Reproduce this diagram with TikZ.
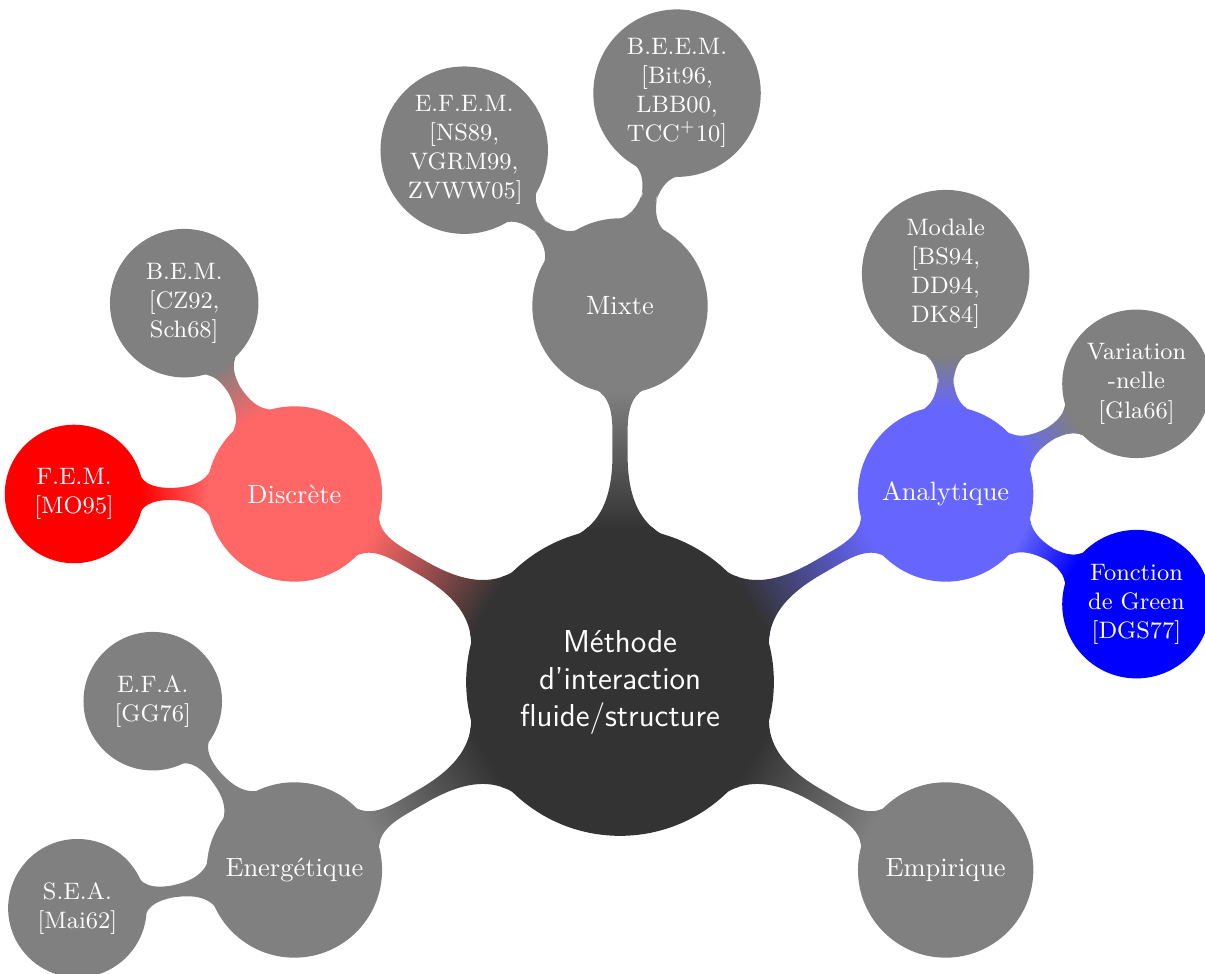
\documentclass[tikz,border=0pt]{standalone}
\usetikzlibrary{mindmap}
\begin{document}
\begin{tikzpicture}[mindmap, text=white, concept color=black!80,
  rootc/.style={minimum size=4.05cm, text width=3.5cm, font=\large\sffamily, align=center, inner sep=1pt},
  lvlone/.style={minimum size=2.29cm, text width=2cm, font=\normalsize, align=center, inner sep=1pt},
  lvltwo/.style={minimum size=1.8cm, text width=1.5cm, font=\small, align=center, inner sep=1pt},
  level 1/.append style={level distance=5cm},
  level 2/.append style={level distance=2.93cm}]
\useasboundingbox (-8.245,-3.883) rectangle (7.779,9.069);
\node[concept, rootc] (root) {Méthode\\d'interaction\\fluide/structure}
  child[grow=150, concept color=red!60] {node[concept, lvlone] (disc) {Discrète}
    child[grow=180, concept color=red] {node[concept, lvltwo] (fem) {F.E.M.\\{}[MO95]}}
    child[grow=120, concept color=gray] {node[concept, lvltwo] (bem) {B.E.M.\\{}[CZ92,\\Sch68]}}
  }
  child[grow=90, concept color=gray] {node[concept, lvlone] (mixte) {Mixte}
    child[grow=135] {node[concept, lvltwo] (efem) {E.F.E.M.\\{}[NS89,\\VGRM99,\\ZVWW05]}}
    child[grow=75] {node[concept, lvltwo] (beem) {B.E.E.M.\\{}[Bit96,\\LBB00,\\TCC$^+$10]}}
  }
  child[grow=30, concept color=blue!60] {node[concept, lvlone] (ana) {Analytique}
    child[grow=90, concept color=gray] {node[concept, lvltwo] (modale) {Modale\\{}[BS94,\\DD94,\\DK84]}}
    child[grow=30, concept color=gray] {node[concept, lvltwo] (varia) {Variation\\-nelle\\{}[Gla66]}}
    child[grow=-30, concept color=blue] {node[concept, lvltwo] (green) {Fonction\\de Green\\{}[DGS77]}}
  }
  child[grow=-30, concept color=gray] {node[concept, lvlone] (emp) {Empirique}}
  child[grow=210, concept color=gray] {node[concept, lvlone] (ener) {Energétique}
    child[grow=130] {node[concept, lvltwo] (efa) {E.F.A.\\{}[GG76]}}
    child[grow=190] {node[concept, lvltwo] (sea) {S.E.A.\\{}[Mai62]}}
  };
\end{tikzpicture}
\end{document}
